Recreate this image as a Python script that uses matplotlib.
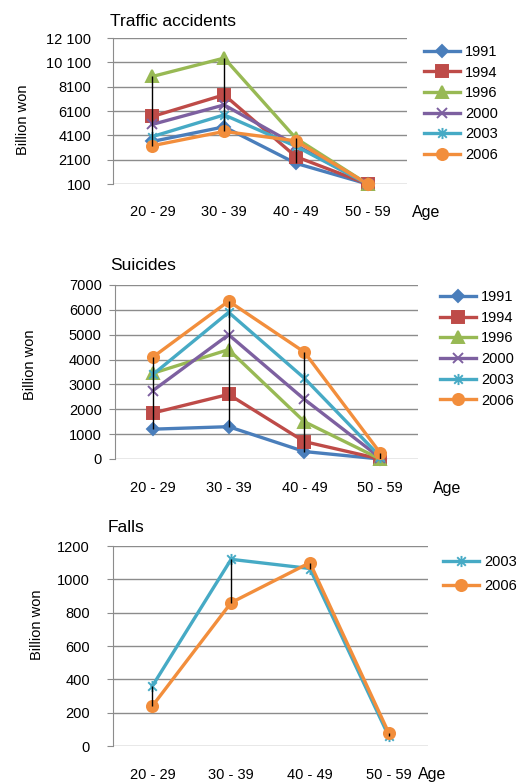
import matplotlib
matplotlib.use('Agg')
import matplotlib.pyplot as plt
from matplotlib.path import Path

plt.rcParams['font.family'] = ['Liberation Sans', 'DejaVu Sans']

ages = ['20 - 29', '30 - 39', '40 - 49', '50 - 59']
years = ['1991', '1994', '1996', '2000', '2003', '2006']

# traffic accidents, billion won
traffic_1991 = [3600, 4800, 1800, 100]
traffic_1994 = [5650, 7430, 2350, 100]
traffic_1996 = [8940, 10450, 3860, 100]
traffic_2000 = [5000, 6600, 3300, 100]
traffic_2003 = [4000, 5780, 3200, 100]
traffic_2006 = [3250, 4420, 3650, 100]

# suicides
suicide_1991 = [1200, 1300, 300, 0]
suicide_1994 = [1850, 2600, 700, 0]
suicide_1996 = [3450, 4400, 1500, 0]
suicide_2000 = [2750, 5000, 2400, 50]
suicide_2003 = [3400, 5900, 3250, 100]
suicide_2006 = [4100, 6350, 4300, 250]

# falls
falls_years = ['2003', '2006']
falls_2003 = [360, 1120, 1065, 60]
falls_2006 = [240, 860, 1100, 80]

traffic_ticks = [100, 2100, 4100, 6100, 8100, 10100, 12100]
traffic_ticklabels = ['100', '2100', '4100', '6100', '8100', '10 100', '12 100']
suicide_ticks = [0, 1000, 2000, 3000, 4000, 5000, 6000, 7000]
falls_ticks = [0, 200, 400, 600, 800, 1000, 1200]

colors = {'1991': '#4a7ebb', '1994': '#be4b48', '1996': '#98b954',
          '2000': '#7d60a0', '2003': '#46aac5', '2006': '#f28e3c'}
asterisk = Path([(-1, -1), (1, 1), (-1, 1), (1, -1), (0, -1.3), (0, 1.3)],
                [Path.MOVETO, Path.LINETO] * 3)
markers = {'1991': ('D', 6), '1994': ('s', 8), '1996': ('^', 8),
           '2000': ('x', 7), '2003': (asterisk, 8), '2006': ('o', 8)}

W, H = 525, 784
fig = plt.figure(figsize=(W / 100, H / 100), dpi=100)
fig.patch.set_facecolor('white')


def axes_px(l, t, r, b):
    return fig.add_axes([l / W, 1 - b / H, (r - l) / W, (b - t) / H])


def draw_panel(box, series, ylim, ticks, ticklabels, xlim, title, title_xy,
               ylab_xy, age_xy, leg_xy, leg_sp, ypad, xpad):
    ax = axes_px(*box)
    x = list(range(len(ages)))
    for yr, vals in series:
        m, ms = markers[yr]
        filled = m in ('D', 's', '^', 'o')
        ax.plot(x, vals, color=colors[yr], lw=2.4, marker=m, ms=ms,
                mfc=colors[yr] if filled else 'none', mec=colors[yr],
                mew=1.4, label=yr, clip_on=False, zorder=3)
    # high-low lines
    lows = [min(s[1][i] for s in series) for i in x]
    highs = [max(s[1][i] for s in series) for i in x]
    ax.vlines(x, lows, highs, color='black', lw=1, zorder=4)
    ax.set_xlim(*xlim)
    ax.set_ylim(*ylim)
    ax.set_yticks(ticks)
    ax.set_yticklabels(ticklabels, fontsize=10.5)
    ax.set_xticks(x)
    ax.set_xticklabels(ages, fontsize=10.5)
    ax.tick_params(axis='x', length=0, pad=xpad)
    ax.tick_params(axis='y', length=4.5, color='#8c8c8c', pad=ypad)
    ax.grid(axis='y', color='#8c8c8c', lw=1)
    ax.set_axisbelow(True)
    for s in ('top', 'right', 'bottom'):
        ax.spines[s].set_visible(False)
    ax.spines['left'].set_color('#8c8c8c')
    fig.text(title_xy[0] / W, 1 - title_xy[1] / H, title, fontsize=12.5,
             va='center', ha='left')
    fig.text(ylab_xy[0] / W, 1 - ylab_xy[1] / H, 'Billion won', fontsize=10.5,
             rotation=90, va='center', ha='center')
    fig.text(age_xy[0] / W, 1 - age_xy[1] / H, 'Age', fontsize=11.5,
             va='center', ha='left')
    ax.legend(loc='upper left', bbox_to_anchor=(leg_xy[0] / W, 1 - leg_xy[1] / H),
              bbox_transform=fig.transFigure, frameon=False, fontsize=10.5,
              handlelength=2.5, handletextpad=0.3, labelspacing=leg_sp,
              borderaxespad=0, borderpad=0)
    return ax


traffic = list(zip(years, [traffic_1991, traffic_1994, traffic_1996,
                           traffic_2000, traffic_2003, traffic_2006]))
suicide = list(zip(years, [suicide_1991, suicide_1994, suicide_1996,
                           suicide_2000, suicide_2003, suicide_2006]))
falls = list(zip(falls_years, [falls_2003, falls_2006]))

draw_panel((113, 38, 407, 184), traffic, (100, 12100), traffic_ticks,
           traffic_ticklabels, (-0.55, 3.55), 'Traffic accidents', (110, 22),
           (23, 120), (412, 212), (424, 45), 0.45, 11, 15)
draw_panel((115, 285, 418, 459), suicide, (0, 7000), suicide_ticks,
           [str(t) for t in suicide_ticks], (-0.5, 3.5), 'Suicides', (110, 265),
           (30, 365), (433, 488), (440, 290), 0.46, 5, 16)
draw_panel((113, 546, 428, 746), falls, (0, 1200), falls_ticks,
           [str(t) for t in falls_ticks], (-0.5, 3.5), 'Falls', (108, 528),
           (37, 625), (418, 775), (443, 555), 0.69, 12, 16)

fig.savefig('out.png', dpi=100, facecolor='white')
